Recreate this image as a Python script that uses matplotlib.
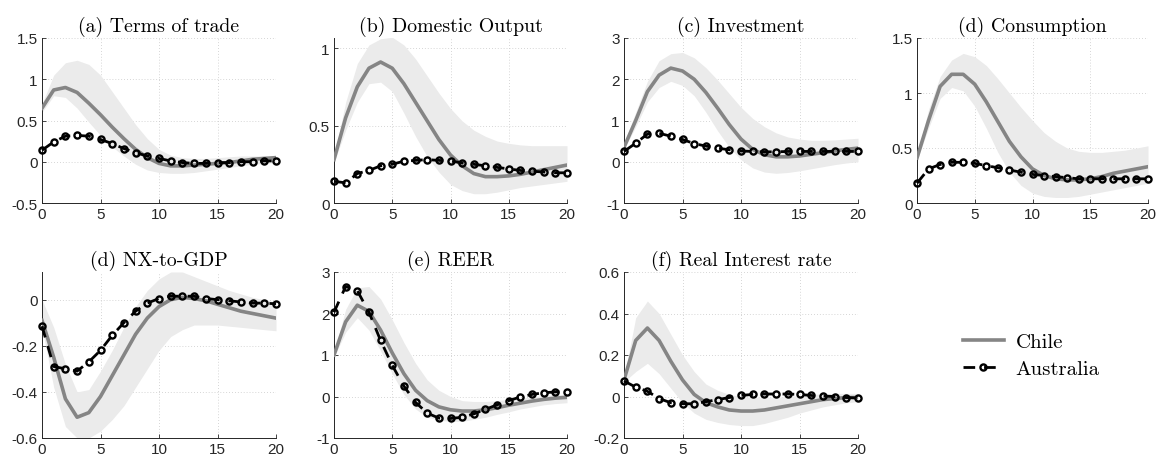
import matplotlib
matplotlib.use("Agg")
import matplotlib.pyplot as plt
import numpy as np
from matplotlib.lines import Line2D
from matplotlib.ticker import FuncFormatter

# horizon
h = np.arange(21)

titles = ["(a) Terms of trade", "(b) Domestic Output", "(c) Investment", "(d) Consumption",
          "(d) NX-to-GDP", "(e) REER", "(f) Real Interest rate"]

# Chile median responses
chile_tot = [0.65, 0.87, 0.90, 0.84, 0.71, 0.57, 0.42, 0.28, 0.15, 0.05, -0.02, -0.05, -0.05,
             -0.04, -0.03, -0.02, -0.01, 0.01, 0.03, 0.04, 0.05]
chile_out = [0.28, 0.55, 0.75, 0.87, 0.91, 0.87, 0.77, 0.65, 0.53, 0.41, 0.31, 0.24, 0.19,
             0.17, 0.17, 0.175, 0.185, 0.20, 0.215, 0.23, 0.245]
chile_inv = [0.35, 1.0, 1.7, 2.1, 2.27, 2.2, 2.0, 1.68, 1.3, 0.9, 0.55, 0.3, 0.17, 0.12, 0.12,
             0.14, 0.18, 0.22, 0.26, 0.30, 0.33]
chile_con = [0.41, 0.75, 1.06, 1.17, 1.17, 1.08, 0.92, 0.74, 0.56, 0.42, 0.31, 0.25, 0.22,
             0.21, 0.21, 0.22, 0.24, 0.27, 0.29, 0.31, 0.33]
chile_nx = [-0.09, -0.25, -0.43, -0.51, -0.49, -0.42, -0.33, -0.24, -0.15, -0.08, -0.03, 0.0,
            0.01, 0.005, -0.005, -0.02, -0.035, -0.05, -0.06, -0.07, -0.08]
chile_reer = [1.0, 1.8, 2.2, 2.05, 1.6, 1.05, 0.55, 0.15, -0.1, -0.25, -0.32, -0.35, -0.35,
              -0.32, -0.27, -0.21, -0.16, -0.11, -0.07, -0.04, -0.02]
chile_rir = [0.08, 0.27, 0.33, 0.27, 0.17, 0.08, 0.01, -0.03, -0.05, -0.065, -0.07, -0.07,
             -0.065, -0.055, -0.045, -0.035, -0.025, -0.015, -0.01, -0.005, -0.005]

# Chile upper / lower bands
up_tot = [0.70, 1.05, 1.20, 1.23, 1.18, 1.05, 0.85, 0.65, 0.45, 0.28, 0.15, 0.08, 0.05, 0.04,
          0.04, 0.05, 0.06, 0.07, 0.07, 0.07, 0.07]
lo_tot = [0.60, 0.80, 0.78, 0.65, 0.48, 0.32, 0.18, 0.07, -0.03, -0.10, -0.13, -0.14, -0.14,
          -0.13, -0.11, -0.09, -0.07, -0.05, -0.03, -0.02, -0.01]
up_out = [0.30, 0.65, 0.90, 1.02, 1.06, 1.07, 1.02, 0.93, 0.82, 0.71, 0.61, 0.53, 0.47, 0.43,
          0.40, 0.385, 0.375, 0.37, 0.37, 0.37, 0.37]
lo_out = [0.26, 0.47, 0.65, 0.77, 0.78, 0.72, 0.58, 0.43, 0.30, 0.20, 0.12, 0.08, 0.06, 0.06,
          0.07, 0.085, 0.10, 0.11, 0.12, 0.13, 0.14]
up_inv = [0.45, 1.2, 1.95, 2.45, 2.62, 2.65, 2.52, 2.28, 1.98, 1.65, 1.32, 1.05, 0.85, 0.70,
          0.60, 0.55, 0.52, 0.52, 0.53, 0.55, 0.57]
lo_inv = [0.30, 0.85, 1.45, 1.80, 1.95, 1.85, 1.60, 1.20, 0.75, 0.35, 0.05, -0.15, -0.25,
          -0.28, -0.26, -0.22, -0.17, -0.12, -0.07, -0.03, 0.0]
up_con = [0.43, 0.85, 1.15, 1.30, 1.36, 1.33, 1.25, 1.13, 1.0, 0.87, 0.75, 0.64, 0.56, 0.50,
          0.47, 0.46, 0.46, 0.47, 0.48, 0.50, 0.52]
lo_con = [0.39, 0.68, 0.95, 1.05, 1.02, 0.88, 0.68, 0.46, 0.28, 0.16, 0.09, 0.06, 0.05, 0.05,
          0.06, 0.08, 0.10, 0.12, 0.14, 0.16, 0.18]
up_nx = [0.0, -0.12, -0.28, -0.40, -0.39, -0.31, -0.22, -0.12, -0.03, 0.04, 0.09, 0.12, 0.12,
         0.10, 0.08, 0.06, 0.04, 0.025, 0.01, 0.0, -0.01]
lo_nx = [-0.12, -0.38, -0.55, -0.60, -0.60, -0.57, -0.52, -0.46, -0.38, -0.30, -0.22, -0.16,
         -0.13, -0.11, -0.11, -0.11, -0.115, -0.12, -0.125, -0.13, -0.135]
up_reer = [1.05, 2.1, 2.62, 2.65, 2.35, 1.85, 1.3, 0.8, 0.4, 0.15, 0.0, -0.1, -0.12, -0.12,
           -0.1, -0.07, -0.04, -0.01, 0.02, 0.04, 0.05]
lo_reer = [0.95, 1.55, 1.9, 1.6, 1.1, 0.55, 0.05, -0.3, -0.5, -0.57, -0.6, -0.6, -0.55, -0.5,
           -0.43, -0.37, -0.3, -0.25, -0.2, -0.17, -0.15]
up_rir = [0.09, 0.38, 0.46, 0.40, 0.30, 0.20, 0.12, 0.06, 0.03, 0.01, 0.0, -0.005, -0.005,
          -0.003, 0.0, 0.005, 0.01, 0.012, 0.015, 0.015, 0.015]
lo_rir = [0.07, 0.12, 0.16, 0.11, 0.04, -0.03, -0.08, -0.11, -0.125, -0.135, -0.14, -0.14,
          -0.13, -0.115, -0.10, -0.08, -0.065, -0.05, -0.04, -0.03, -0.025]

# Australia responses
aus_tot = [0.14, 0.24, 0.31, 0.32, 0.31, 0.27, 0.22, 0.16, 0.11, 0.07, 0.04, 0.01, -0.01,
           -0.02, -0.02, -0.01, -0.01, 0.0, 0.0, 0.01, 0.01]
aus_out = [0.14, 0.13, 0.19, 0.21, 0.24, 0.25, 0.27, 0.275, 0.28, 0.275, 0.27, 0.26, 0.25,
           0.24, 0.23, 0.22, 0.21, 0.205, 0.20, 0.195, 0.195]
aus_inv = [0.25, 0.45, 0.67, 0.69, 0.62, 0.54, 0.44, 0.38, 0.33, 0.29, 0.26, 0.25, 0.24, 0.24,
           0.25, 0.25, 0.25, 0.25, 0.25, 0.25, 0.25]
aus_con = [0.18, 0.31, 0.35, 0.37, 0.37, 0.36, 0.34, 0.32, 0.30, 0.28, 0.26, 0.25, 0.24, 0.23,
           0.22, 0.22, 0.22, 0.22, 0.22, 0.22, 0.22]
aus_nx = [-0.115, -0.29, -0.30, -0.31, -0.27, -0.22, -0.155, -0.10, -0.05, -0.015, 0.005,
          0.015, 0.015, 0.015, 0.005, 0.0, -0.005, -0.01, -0.015, -0.015, -0.018]
aus_reer = [2.03, 2.65, 2.55, 2.03, 1.35, 0.75, 0.25, -0.14, -0.40, -0.52, -0.53, -0.50,
            -0.42, -0.31, -0.20, -0.10, -0.01, 0.05, 0.09, 0.11, 0.12]
aus_rir = [0.075, 0.045, 0.025, -0.01, -0.03, -0.035, -0.035, -0.025, -0.015, -0.005, 0.005,
           0.01, 0.012, 0.012, 0.012, 0.01, 0.005, 0.002, 0.0, -0.005, -0.007]

chile = [chile_tot, chile_out, chile_inv, chile_con, chile_nx, chile_reer, chile_rir]
upper = [up_tot, up_out, up_inv, up_con, up_nx, up_reer, up_rir]
lower = [lo_tot, lo_out, lo_inv, lo_con, lo_nx, lo_reer, lo_rir]
aus = [aus_tot, aus_out, aus_inv, aus_con, aus_nx, aus_reer, aus_rir]

ylims = [(-0.5, 1.5), (0, 1.065), (-1, 3), (0, 1.5), (-0.6, 0.12), (-1, 3), (-0.2, 0.6)]
yticks = [[-0.5, 0, 0.5, 1, 1.5], [0, 0.5, 1], [-1, 0, 1, 2, 3], [0, 0.5, 1, 1.5],
          [-0.6, -0.4, -0.2, 0], [-1, 0, 1, 2, 3], [-0.2, 0, 0.2, 0.4, 0.6]]

plt.rcParams["font.family"] = ["Liberation Sans", "DejaVu Sans"]

fig = plt.figure(figsize=(11.61, 4.64), dpi=100)
W, H = 1161, 464
# panel boxes in pixels: left, top, right, bottom
boxes = [(42, 39, 276, 204), (334, 39, 567, 204), (624, 39, 858, 204), (917, 39, 1148, 204),
         (42, 273, 276, 439), (334, 273, 567, 439), (624, 273, 858, 439)]

fmt = FuncFormatter(lambda v, p: ("%g" % v).replace("\u2212", "-"))
aus_style = dict(color="black", lw=2.0, dashes=(4.2, 3.2), marker="o", ms=4.4,
                 mfc="none", mec="black", mew=1.7)

for i, (l, t, r, b) in enumerate(boxes):
    ax = fig.add_axes([l / W, 1 - b / H, (r - l) / W, (b - t) / H])
    ax.fill_between(h, lower[i], upper[i], color="#ebebeb", lw=0, zorder=1)
    ax.plot(h, chile[i], color="#858585", lw=2.6, zorder=3)
    ax.plot(h, aus[i], zorder=4, clip_on=False, **aus_style)
    ax.set_xlim(0, 20)
    ax.set_ylim(*ylims[i])
    ax.set_xticks([0, 5, 10, 15, 20])
    ax.set_yticks(yticks[i])
    ax.yaxis.set_major_formatter(fmt)
    ax.grid(True, linestyle=(0, (1, 2.5)), color="#c8c8c8", lw=0.6)
    ax.set_axisbelow(True)
    for s in ["top", "right"]:
        ax.spines[s].set_visible(False)
    for s in ["left", "bottom"]:
        ax.spines[s].set_color("#262626")
        ax.spines[s].set_linewidth(0.7)
    ax.tick_params(direction="in", length=3, width=0.6, labelsize=11, colors="#262626", pad=3)
    ax.set_title(titles[i], fontfamily="cmr10", fontsize=14.3, pad=5)

handles = [Line2D([], [], color="#858585", lw=2.6), Line2D([], [], **aus_style)]
fig.legend(handles, ["Chile", "Australia"], loc="center left", bbox_to_anchor=(0.813, 0.232),
           frameon=False, prop={"family": "cmr10", "size": 15}, handlelength=2.0,
           labelspacing=0.42, handletextpad=0.55)

fig.savefig("out.png", dpi=100)
